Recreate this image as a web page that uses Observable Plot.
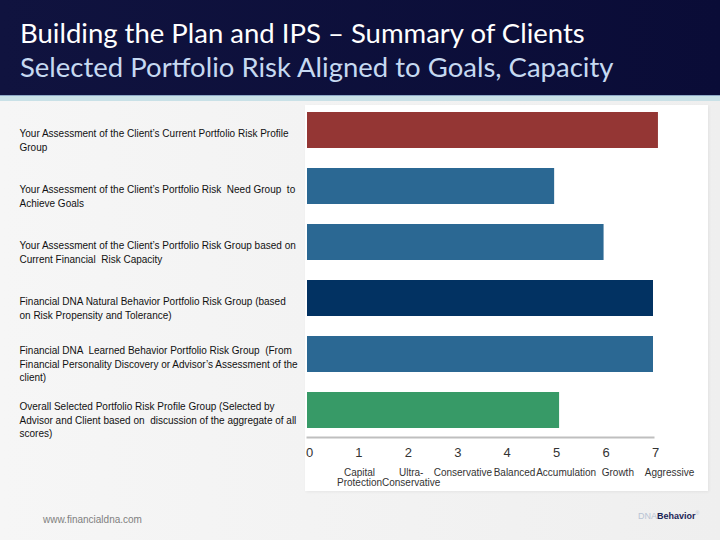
<!DOCTYPE html>
<html><head><meta charset="utf-8">
<script src="https://cdn.jsdelivr.net/npm/d3@7"></script>
<script src="https://cdn.jsdelivr.net/npm/@observablehq/plot@0.6"></script>
<style>
html,body{margin:0;padding:0;}
body{width:720px;height:540px;overflow:hidden;background:linear-gradient(90deg,#f6f6f6,#efefef);position:relative;font-family:"Liberation Sans",Arial,sans-serif;}
#header{position:absolute;left:0;top:0;width:720px;height:95px;background:linear-gradient(90deg,#10133f,#0a0c37);}
#band{position:absolute;left:0;top:95px;width:720px;height:5px;background:#c9e1e7;border-top:1px solid #8ea9c6;}
.ttl{position:absolute;left:20px;font-family:Lato,"Open Sans",sans-serif;font-size:27.5px;line-height:1;white-space:nowrap;}
#title{top:19px;color:#ffffff;}
#subtitle{top:53px;color:#c6d9f1;}
#panel{position:absolute;left:305px;top:105px;width:403px;height:386px;background:#fff;box-shadow:1px 1px 3px rgba(0,0,0,0.06);}
#chart{position:absolute;left:0;top:100px;}
#groups{position:absolute;left:0;top:467px;}
#url{position:absolute;left:43px;top:514px;font-size:10px;color:#808080;}
#logo{position:absolute;left:638px;top:510px;font-size:9px;color:#b8c4d4;white-space:nowrap;}
#logo b{color:#1b2456;}
</style></head>
<body>
<div id="header"></div>
<div id="band"></div>
<div class="ttl" id="title">Building the Plan and IPS – Summary of Clients</div>
<div class="ttl" id="subtitle">Selected Portfolio Risk Aligned to Goals, Capacity</div>
<div id="panel"></div>
<div id="chart"></div>
<div id="groups"></div>
<div id="url">www.financialdna.com</div>
<div id="logo">DNA<b>Behavior</b><sup style="font-size:5px">®</sup></div>
<script>
const labels = [
  "Your Assessment of the Client’s Current Portfolio Risk Profile\nGroup",
  "Your Assessment of the Client’s Portfolio Risk  Need Group  to\nAchieve Goals",
  "Your Assessment of the Client’s Portfolio Risk Group based on\nCurrent Financial  Risk Capacity",
  "Financial DNA Natural Behavior Portfolio Risk Group (based\non Risk Propensity and Tolerance)",
  "Financial DNA  Learned Behavior Portfolio Risk Group  (From\nFinancial Personality Discovery or Advisor’s Assessment of the\nclient)",
  "Overall Selected Portfolio Risk Profile Group (Selected by\nAdvisor and Client based on  discussion of the aggregate of all\nscores)"
];
const values = [7.1, 5, 6, 7, 7, 5.1];
const colors = ["#943634", "#2b6893", "#2b6893", "#023262", "#2b6893", "#379a67"];
const tickValues = [0, 1, 2, 3, 4, 5, 6, 7];
const groupValues = [1, 2, 3, 4, 5, 6, 7];
const groupNames = ["Capital\nProtection", "Ultra-\nConservative", "Conservative", "Balanced", "Accumulation", "Growth", "Aggressive"];

const data = labels.map((label, i) => ({label, value: values[i], color: colors[i]}));

const chart = Plot.plot({
  width: 720,
  height: 400,
  marginLeft: 307,
  marginRight: 67,
  marginTop: 2,
  marginBottom: 63,
  style: {background: "transparent", fontFamily: "'Liberation Sans', Arial, sans-serif"},
  x: {domain: [0, 7]},
  y: {domain: labels, paddingInner: 0.36, paddingOuter: 0.15, axis: null},
  color: {type: "identity"},
  marks: [
    Plot.barX(data, {x: "value", y: "label", fill: "color"}),
    Plot.frame({anchor: "bottom", stroke: "#bfbfbf", strokeWidth: 2}),
    Plot.axisX({ticks: tickValues, tickFormat: d3.format("d"), label: null, tickSize: 0, tickPadding: 10, fontSize: 13, fill: "#333", dx: 2}),
    Plot.text(data, {y: "label", text: "label", frameAnchor: "left", textAnchor: "start", dx: -288, dy: 9, fontSize: 10, lineHeight: 1.35, fill: "#111"})
  ]
});
document.getElementById("chart").appendChild(chart);

// risk group names under the numeric axis
const groups = Plot.plot({
  width: 720,
  height: 30,
  marginLeft: 359,
  marginRight: 51,
  marginTop: 0,
  marginBottom: 29,
  style: {background: "transparent", fontFamily: "'Liberation Sans', Arial, sans-serif", overflow: "visible"},
  x: {domain: [1, 7]},
  marks: [
    Plot.axisX({anchor: "bottom", ticks: groupValues, tickFormat: v => groupNames[v - 1], label: null, tickSize: 0, tickPadding: 0, fontSize: 10, lineHeight: 1.05, fill: "#333"})
  ]
});
document.getElementById("groups").appendChild(groups);
</script>
</body></html>
